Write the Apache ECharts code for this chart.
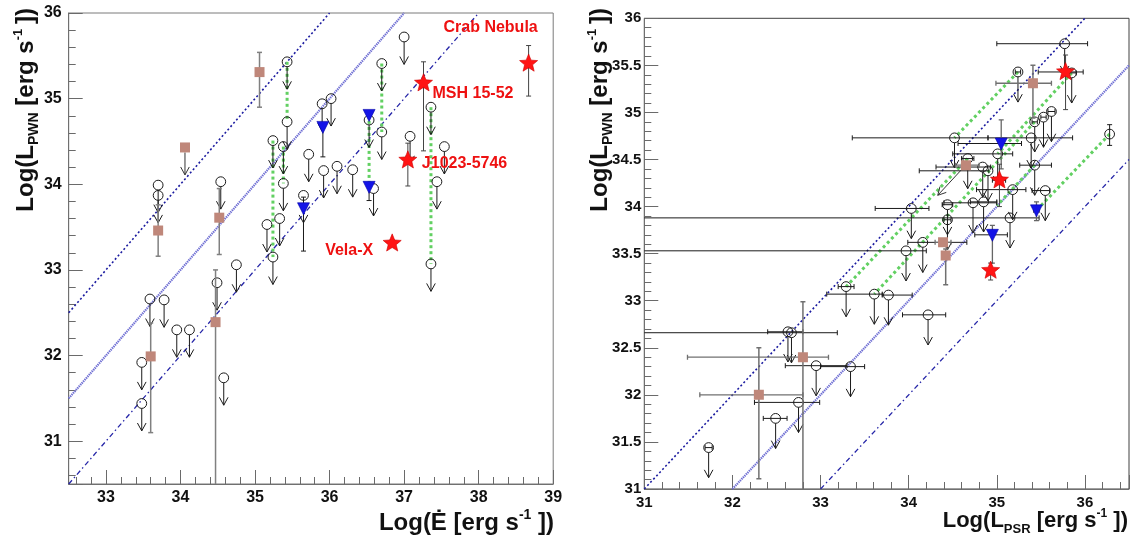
<!DOCTYPE html>
<html><head><meta charset="utf-8">
<script src="https://cdn.jsdelivr.net/npm/echarts@6/dist/echarts.min.js"></script>
<style>html,body{margin:0;padding:0;background:#fff}#c{width:1133px;height:545px}</style>
</head><body><div id="c"></div>
<script>
// ================= DATA =================
// Left panel: [log Edot, log L_PWN] upper limits (open circles with arrows)
const leftUpperLimits = [
 [33.70,33.99],[33.70,33.87],[34.54,34.03],[35.24,34.51],[35.16,33.53],[35.33,33.60],
 [35.43,35.43],[35.43,34.73],[35.38,34.44],[35.38,34.01],[35.65,33.87],[35.72,34.35],
 [35.90,34.94],[36.02,35.00],[35.92,34.16],[36.10,34.21],[36.31,34.17],[36.53,34.75],
 [36.70,35.41],[36.70,34.61],[37.00,35.72],[36.59,33.95],[37.08,34.56],[37.36,34.90],
 [37.54,34.44],[37.44,34.03],[35.24,33.15],[37.36,33.07],[33.59,32.66],[33.78,32.65],
 [33.95,32.30],[34.12,32.30],[33.48,31.92],[33.48,31.44],[34.49,32.85],[34.75,33.06],
 [34.58,31.74]
];
// Left squares: [x, y, yLow, yHigh]
const leftSquares = [
 [35.06,35.31,34.90,35.54],[34.06,34.43,null,null],[33.70,33.46,33.16,33.76],
 [34.52,33.61,33.18,33.95],[33.60,31.99,31.10,32.38],[34.47,32.39,30.00,33.00]
];
const leftSquareIsLimit = [false,true,false,false,false,false];
// Left triangles: [x, y, yLow, yHigh]
const leftTriangles = [
 [35.91,34.67,34.32,34.67],[36.53,34.81,null,null],[36.53,33.97,33.81,33.97],[35.65,33.72,33.22,33.85]
];
// Left stars: [x, y, yLow, yHigh]
const leftStars = [
 [38.67,35.41,35.03,35.62],[37.26,35.18,34.39,35.43],[37.05,34.28,33.98,34.48],[36.84,33.31,33.27,33.35]
];
const starNames = ['Crab Nebula','MSH 15-52','J1023-5746','Vela-X'];
// Left pairs (green dotted): [x, y1, y2]
const leftPairs = [
 [35.43,35.43,34.73],[35.38,34.44,34.01],[35.24,34.51,33.15],
 [36.70,35.41,34.61],[36.53,34.81,33.97],[37.36,34.90,33.07]
];

// Right panel: [log L_PSR, log L_PWN, xLow, xHigh] upper limits
const rightUpperLimits = [
 [35.77,35.73,35.00,36.03],[35.24,35.43,35.21,35.27],[35.85,35.42,35.80,35.90],
 [35.62,35.01,35.58,35.66],[35.53,34.95,35.50,35.56],[35.43,34.90,35.40,35.46],
 [35.39,34.73,34.90,35.86],[35.43,34.44,35.26,35.62],[35.18,34.18,34.77,35.33],
 [35.55,34.17,35.40,35.60],[35.15,33.88,30.00,35.48],[34.52,34.73,33.36,34.90],
 [34.67,34.51,34.60,34.74],[34.84,34.42,34.31,34.93],[35.01,34.56,34.50,35.18],
 [34.90,34.38,34.12,34.91],[34.03,33.98,33.62,34.23],[34.44,34.02,34.38,34.50],
 [34.44,33.86,34.40,34.48],[34.73,34.04,34.40,35.00],[34.85,34.05,34.70,35.00],
 [34.16,33.62,33.99,34.66],[33.97,33.53,30.00,34.20],[33.29,33.15,33.20,33.38],
 [33.61,33.07,33.07,33.70],[33.77,33.06,33.70,34.04],[34.22,32.85,33.93,34.42],
 [32.63,32.67,32.40,32.80],[32.67,32.66,30.00,33.19],[32.95,32.31,32.60,33.30],
 [33.34,32.30,33.00,33.50],[32.75,31.92,32.25,32.99],[32.49,31.75,32.35,32.62],
 [31.73,31.44,31.69,31.77]
];
// Right detections (open circle, no arrow): [x, y, yLow, yHigh]
const rightDetections = [[36.28,34.77,34.65,34.87]];
// Right squares: [x, y, xLow, xHigh, yLow, yHigh]
const rightSquares = [
 [35.41,35.31,34.99,35.62,34.94,35.50],[34.65,34.44,34.53,34.80,null,null],
 [34.39,33.62,34.30,34.48,null,null],[34.42,33.48,34.38,34.46,33.17,33.55],
 [32.80,32.40,31.49,33.09,30.90,32.99],[32.30,32.00,31.63,32.80,31.11,32.50]
];
const rightSquareIsLimit = [false,true,false,false,false,false];
// Right stars: [x, y, xLow, xHigh, yLow, yHigh]
const rightStars = [
 [35.78,35.43,35.47,35.98,35.03,35.61],[35.03,34.28,34.95,35.10,34.00,34.45],[34.93,33.32,34.90,34.96,33.22,33.40]
];
// Right triangles: [x, y, xLow, xHigh, yLow, yHigh]
const rightTriangles = [
 [35.05,34.67,34.56,35.28,34.40,34.92],[35.45,33.96,35.42,35.48,33.85,34.05],[34.95,33.70,34.75,35.12,33.40,33.80]
];
// Right pairs (green dotted): [x1, y1, x2, y2]
const rightPairs = [
 [35.24,35.43,34.52,34.73],[35.43,34.44,35.00,34.01],[34.67,34.51,33.29,33.15],
 [35.85,35.42,35.01,34.56],[36.28,34.77,35.45,33.96],[35.43,34.90,33.61,33.07]
];
// Reference lines: y = x + offset
const refOffsets = [0, -1, -2];

// ================= STYLE =================
const RANGES = [{x:[32.5,39],y:[30.5,36]},{x:[31,36.5],y:[31,36]}];
const ARROW_DEX = 0.32;
const FONT = 'Liberation Sans';
const BLK = '#1a1a1a';
const SQ_COL = '#bf877a';
const TRI_COL = '#1414e6';
const STAR_COL = '#ff1414';
const GREEN = '#62d062';
const CR = 4.9;
const refStyles = [
  {color:'#1c1ca0', width:1.6, type:[2,2.4]},
  {color:'#7070d4', width:2.2, type:[1.4,0.8]},
  {color:'#2626a8', width:1.3, type:[5,3,1.5,3]}
];
const starLabelLayout = [
  {dx:-38, dy:-36, align:'center'},
  {dx:9, dy:10, align:'left'},
  {dx:14, dy:3, align:'left'},
  {dx:-19, dy:7.5, align:'right'}
];

// ================= HELPERS =================
function seg(x1,y1,x2,y2,color,w,dash){
  return {type:'line', shape:{x1,y1,x2,y2}, style:{stroke:color, lineWidth:w, lineDash:dash||null, fill:'none'}};
}
function vErr(api,x,lo,hi,r,color,w,cap){
  if(lo==null) return [];
  const a=api.coord([x,Math.max(lo,r.y[0])]), b=api.coord([x,Math.min(hi,r.y[1])]);
  const out=[seg(a[0],a[1],b[0],b[1],color,w)];
  if(lo>=r.y[0]) out.push(seg(a[0]-cap,a[1],a[0]+cap,a[1],color,w));
  if(hi<=r.y[1]) out.push(seg(b[0]-cap,b[1],b[0]+cap,b[1],color,w));
  return out;
}
function hErr(api,y,lo,hi,r,color,w,cap){
  if(lo==null) return [];
  const a=api.coord([Math.max(lo,r.x[0]),y]), b=api.coord([Math.min(hi,r.x[1]),y]);
  const out=[seg(a[0],a[1],b[0],b[1],color,w)];
  if(lo>=r.x[0]) out.push(seg(a[0],a[1]-cap,a[0],a[1]+cap,color,w));
  if(hi<=r.x[1]) out.push(seg(b[0],b[1]-cap,b[0],b[1]+cap,color,w));
  return out;
}
function arrow(x0,y0,x1,y1,color){
  const ang=Math.atan2(y1-y0,x1-x0), L=9, h=0.5;
  const p1=[x1-L*Math.cos(ang-h), y1-L*Math.sin(ang-h)];
  const p2=[x1-L*Math.cos(ang+h), y1-L*Math.sin(ang+h)];
  return [seg(x0,y0,x1,y1,color,1),
    {type:'polyline', shape:{points:[p1,[x1,y1],p2]}, style:{stroke:color, lineWidth:1, fill:'none'}}];
}
function circleEl(c){return {type:'circle', shape:{cx:c[0],cy:c[1],r:CR}, style:{stroke:BLK, lineWidth:1, fill:'none'}};}
function squareEl(c){return {type:'rect', shape:{x:c[0]-5,y:c[1]-5,width:10,height:10}, style:{fill:SQ_COL, stroke:'none'}};}
function triEl(c){return {type:'polygon', shape:{points:[[c[0]-6,c[1]-5.5],[c[0]+6,c[1]-5.5],[c[0],c[1]+6.5]]}, style:{fill:TRI_COL, stroke:'#0000aa', lineWidth:0.6}};}
function starEl(c){
  const pts=[]; for(let i=0;i<10;i++){const a=-Math.PI/2+i*Math.PI/5, rr=(i%2)?4.2:9.5; pts.push([c[0]+rr*Math.cos(a), c[1]+rr*Math.sin(a)]);}
  return {type:'polygon', shape:{points:pts}, style:{fill:STAR_COL, stroke:'#d00000', lineWidth:0.6}};
}
function custom(panel, arr, draw, z){
  return {type:'custom', xAxisIndex:panel, yAxisIndex:panel, coordinateSystem:'cartesian2d',
    data: arr.map(d=>[d[0],d[1]]), encode:{x:0,y:1}, z, clip:true, silent:true, animation:false,
    renderItem:(params, api)=>({type:'group', children: draw(arr[params.dataIndex], api, params.dataIndex, RANGES[panel])})};
}
function refLine(panel, k, i){
  const r=RANGES[panel];
  const x0=Math.max(r.x[0], r.y[0]-k), x1=Math.min(r.x[1], r.y[1]-k);
  return {type:'line', xAxisIndex:panel, yAxisIndex:panel, data:[[x0,x0+k],[x1,x1+k]], symbol:'none',
    lineStyle:refStyles[i], silent:true, animation:false, z:1};
}

// ---- drawing functions ----
const drawLimit=(d,api,i,r)=>{
  const c=api.coord([d[0],d[1]]), t=api.coord([d[0],d[1]-ARROW_DEX]);
  return [...hErr(api,d[1],d[2],d[3],r,BLK,1,2.5), ...arrow(c[0],c[1]+CR,t[0],t[1],BLK), circleEl(c)];
};
const drawDetect=(d,api,i,r)=>{const c=api.coord([d[0],d[1]]); return [...vErr(api,d[0],d[2],d[3],r,BLK,1,2.5), circleEl(c)];};
const drawLeftSquare=(d,api,i,r)=>{
  const c=api.coord([d[0],d[1]]); const out=[...vErr(api,d[0],d[2],d[3],r,'#808080',1.5,2.5)];
  if(leftSquareIsLimit[i]){const t=api.coord([d[0],d[1]-ARROW_DEX]); out.push(...arrow(c[0],c[1]+5,t[0],t[1],'#333'));}
  out.push(squareEl(c)); return out;
};
const drawRightSquare=(d,api,i,r)=>{
  const c=api.coord([d[0],d[1]]);
  const out=[...hErr(api,d[1],d[2],d[3],r,'#707070',1.3,2.5), ...vErr(api,d[0],d[4],d[5],r,'#707070',1.5,2.5)];
  if(rightSquareIsLimit[i]){const t=api.coord([d[0]-ARROW_DEX,d[1]-ARROW_DEX]); out.push(...arrow(c[0]-4,c[1]+4,t[0],t[1],'#333'));}
  out.push(squareEl(c)); return out;
};
const drawLeftTri=(d,api,i,r)=>{const c=api.coord([d[0],d[1]]); return [...vErr(api,d[0],d[2],d[3],r,BLK,1,2.5), triEl(c)];};
const drawRightTri=(d,api,i,r)=>{const c=api.coord([d[0],d[1]]); return [...hErr(api,d[1],d[2],d[3],r,BLK,1,2.5), ...vErr(api,d[0],d[4],d[5],r,'#666',1.3,2.5), triEl(c)];};
const drawLeftStar=(d,api,i,r)=>{
  const c=api.coord([d[0],d[1]]); const L=starLabelLayout[i];
  return [...vErr(api,d[0],d[2],d[3],r,'#444',1,2.5), starEl(c),
    {type:'text', x:c[0]+L.dx, y:c[1]+L.dy, style:{text:starNames[i], fill:'#ee1111', fontSize:16, fontWeight:'bold', fontFamily:FONT, align:L.align, verticalAlign:'middle'}}];
};
const drawRightStar=(d,api,i,r)=>{const c=api.coord([d[0],d[1]]); return [...hErr(api,d[1],d[2],d[3],r,BLK,1,2.5), ...vErr(api,d[0],d[4],d[5],r,'#444',1,2.5), starEl(c)];};
const drawLeftPair=(d,api)=>{const a=api.coord([d[0],d[1]]), b=api.coord([d[0],d[2]]); return [seg(a[0],a[1],b[0],b[1],GREEN,3,[3,3])];};
const drawRightPair=(d,api)=>{const a=api.coord([d[0],d[1]]), b=api.coord([d[2],d[3]]); return [seg(a[0],a[1],b[0],b[1],GREEN,3,[3,3])];};

// ================= AXES =================
function isInt(v){return Math.abs(v-Math.round(v))<1e-6;}
function axisCommon(extra){
  return Object.assign({
    type:'value',
    axisLine:{show:true, onZero:false, lineStyle:{color:'#707070', width:1}},
    axisTick:{show:true, inside:true, length:14, lineStyle:{color:'#6a6a6a', width:1}},
    minorTick:{show:true, splitNumber:5, length:7, lineStyle:{color:'#6a6a6a', width:1}},
    splitLine:{show:false}, minorSplitLine:{show:false},
    axisLabel:{fontFamily:FONT, fontWeight:'bold', fontSize:16, color:'#111', showMinLabel:true, showMaxLabel:true}
  }, extra);
}
const xAxes=[
  axisCommon({gridIndex:0, min:32.5, max:39, minInterval:1, maxInterval:1}),
  axisCommon({gridIndex:1, min:31, max:36.5, minInterval:1, maxInterval:1})
];
xAxes[0].axisLabel=Object.assign({},xAxes[0].axisLabel,{margin:6, formatter:v=>isInt(v)?String(Math.round(v)):''});
xAxes[1].axisLabel=Object.assign({},xAxes[1].axisLabel,{margin:6, fontSize:15, formatter:v=>isInt(v)?String(Math.round(v)):''});
const yAxes=[
  axisCommon({gridIndex:0, min:30.5, max:36, minInterval:1, maxInterval:1}),
  axisCommon({gridIndex:1, min:31, max:36, interval:0.5})
];
yAxes[0].axisLabel=Object.assign({},yAxes[0].axisLabel,{margin:7, formatter:v=>isInt(v)?String(Math.round(v)):''});
yAxes[1].axisLabel=Object.assign({},yAxes[1].axisLabel,{margin:3, fontSize:15});

function richSet(main, sub, sup, subPad, supPad){
  return {
    m:{fontSize:main, fontWeight:'bold', fontFamily:FONT, fill:'#111'},
    sub:{fontSize:sub, fontWeight:'bold', fontFamily:FONT, fill:'#111', padding:[subPad,0,0,0]},
    sup:{fontSize:sup, fontWeight:'bold', fontFamily:FONT, fill:'#111', padding:[0,0,supPad,0]}
  };
}
const richRightX = richSet(22,13,12,16,14);
const richLeftX = richSet(24,13,14,16,16);
const richY = richSet(24,14,13,17,15);
const yTitle='{m|Log(L}{sub|PWN}{m| [erg s}{sup|-1}{m|\u2009])}';

const option={
  animation:false,
  grid:[
    {left:68.7, top:13, width:484.5, height:471, show:true, borderColor:'#7a7a7a', borderWidth:1, backgroundColor:'transparent'},
    {left:644.3, top:18.3, width:484.7, height:470.7, show:true, borderColor:'#404040', borderWidth:1, backgroundColor:'transparent'}
  ],
  xAxis:xAxes, yAxis:yAxes,
  graphic:[
    {type:'text', x:554, y:523, style:{text:'{m|Log(\u0116 [erg s}{sup|-1}{m| ])}', rich:richLeftX, align:'right', verticalAlign:'middle'}},
    {type:'text', x:1128, y:521, style:{text:'{m|Log(L}{sub|PSR}{m| [erg s}{sup|-1}{m| ])}', rich:richRightX, align:'right', verticalAlign:'middle'}},
    {type:'text', x:26, y:8, rotation:Math.PI/2, style:{text:yTitle, rich:richY, align:'right', verticalAlign:'middle'}},
    {type:'text', x:600, y:8, rotation:Math.PI/2, style:{text:yTitle, rich:richY, align:'right', verticalAlign:'middle'}}
  ],
  series:[
    ...refOffsets.map((k,i)=>refLine(0,k,i)),
    ...refOffsets.map((k,i)=>refLine(1,k,i)),
    custom(0,leftPairs,drawLeftPair,2),
    custom(1,rightPairs,drawRightPair,2),
    custom(0,leftUpperLimits,drawLimit,3),
    custom(1,rightUpperLimits,drawLimit,3),
    custom(1,rightDetections,drawDetect,3),
    custom(0,leftSquares,drawLeftSquare,4),
    custom(1,rightSquares,drawRightSquare,4),
    custom(0,leftTriangles,drawLeftTri,5),
    custom(1,rightTriangles,drawRightTri,5),
    custom(0,leftStars,drawLeftStar,6),
    custom(1,rightStars,drawRightStar,6)
  ]
};
const chart=echarts.init(document.getElementById('c'),null,{renderer:'canvas'});
chart.setOption(option);
</script></body></html>
